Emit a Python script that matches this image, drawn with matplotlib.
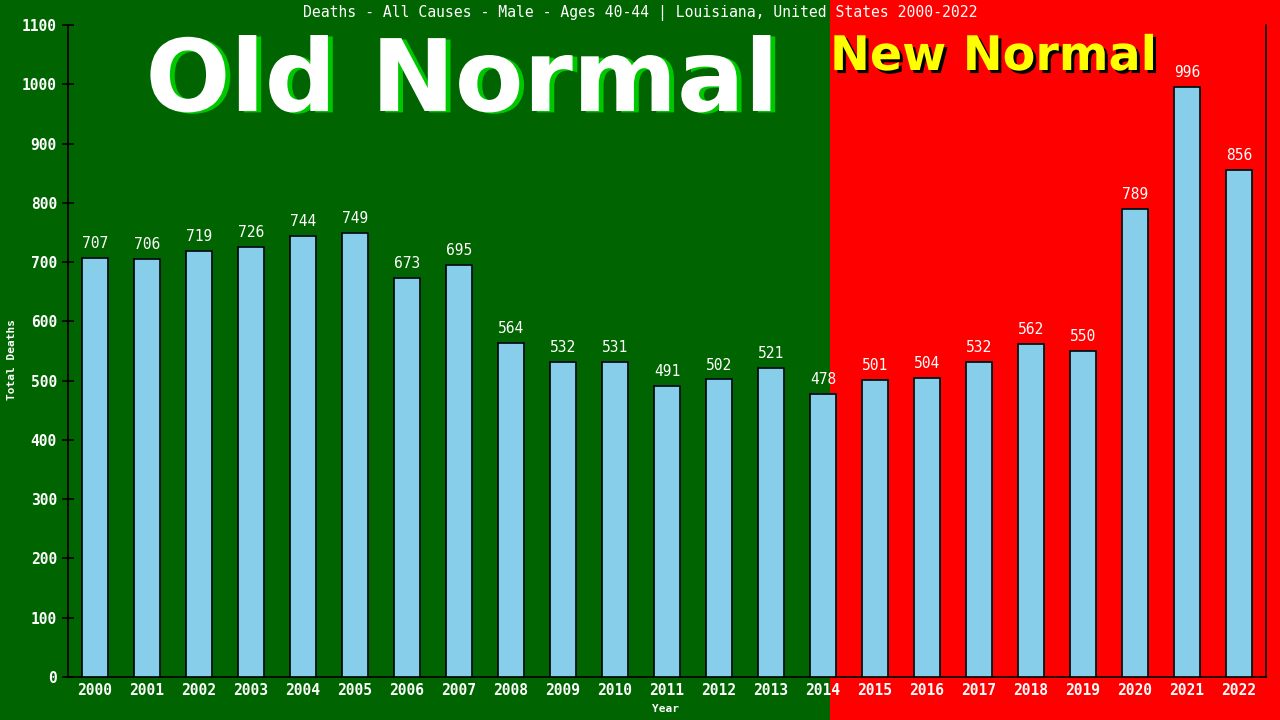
import matplotlib
matplotlib.use("Agg")
import matplotlib.pyplot as plt
from matplotlib.patches import Rectangle
import matplotlib.transforms as mtransforms
import matplotlib.patheffects as pe

years = [str(y) for y in range(2000, 2023)]
deaths = [707, 706, 719, 726, 744, 749, 673, 695, 564, 532, 531, 491,
          502, 521, 478, 501, 504, 532, 562, 550, 789, 996, 856]
yticks = list(range(0, 1101, 100))
title = "Deaths - All Causes - Male - Ages 40-44 | Louisiana, United States 2000-2022"

W, H = 1280, 720
fig = plt.figure(figsize=(12.8, 7.2), dpi=100)
split = 830 / W
fig.patches.append(Rectangle((0, 0), split, 1, transform=fig.transFigure,
                             facecolor="#006400", edgecolor="none", zorder=-10))
fig.patches.append(Rectangle((split, 0), 1 - split, 1, transform=fig.transFigure,
                             facecolor="#ff0000", edgecolor="none", zorder=-10))

ax = fig.add_axes([68 / W, (H - 677) / H, 1198 / W, 652 / H])
ax.set_facecolor("none")
x = list(range(len(years)))

shadow = mtransforms.offset_copy(ax.transData, fig=fig, x=1, y=1, units="dots")
ax.bar(x, deaths, width=0.5, color="#4682b4", edgecolor="none", transform=shadow, zorder=2)
ax.bar(x, deaths, width=0.49, color="#87ceeb", edgecolor="black", linewidth=1.2, zorder=3)

mono = "DejaVu Sans Mono"
for xi, v in zip(x, deaths):
    ax.annotate(str(v), (xi, v), xytext=(0, 5), textcoords="offset points",
                ha="center", va="bottom", color="white", family=mono, fontsize=10.5, zorder=5)

ax.set_xlim(-0.52, len(years) - 1 + 0.52)
ax.set_ylim(0, 1100)
ax.set_yticks(yticks)
ax.set_yticklabels([str(t) for t in yticks], family=mono, fontsize=10.5,
                   fontweight="bold", color="white")
ax.set_xticks(x)
ax.set_xticklabels(years, family=mono, fontsize=10.5, fontweight="bold", color="white")
ax.tick_params(axis="y", direction="inout", length=8, width=1.2, color="black", pad=4)
ax.tick_params(axis="x", length=0, pad=4)
for s in ["left", "bottom", "right"]:
    ax.spines[s].set_color("black")
    ax.spines[s].set_linewidth(1.2)
ax.spines["top"].set_visible(False)

fig.text(12 / W, 1 - 360 / H, "Total Deaths", rotation=90, ha="center", va="center",
         family=mono, fontsize=8, fontweight="bold", color="white")
fig.text(666 / W, 1 - 709 / H, "Year", ha="center", va="center",
         family=mono, fontsize=8, fontweight="bold", color="white")
fig.text(640 / W, 1 - 13 / H, title, ha="center", va="center",
         family=mono, fontsize=10.6, color="white")

# Old Normal
fig.text(462 / W, 1 - 111 / H, "Old Normal", color="white", ha="center", va="baseline",
         family="DejaVu Sans", fontweight="bold", fontsize=72,
         path_effects=[pe.SimplePatchShadow(offset=(3.5, -1), shadow_rgbFace="#00c800", alpha=1),
                       pe.Normal()])

# New Normal
fig.text(830 / W, 1 - 70 / H, "New Normal", color="#ffff00", ha="left", va="baseline",
         family="DejaVu Sans", fontweight="bold", fontsize=34.3,
         path_effects=[pe.SimplePatchShadow(offset=(2.2, -2.2), shadow_rgbFace="black", alpha=1),
                       pe.Normal()])

fig.savefig("out.png", dpi=100)
